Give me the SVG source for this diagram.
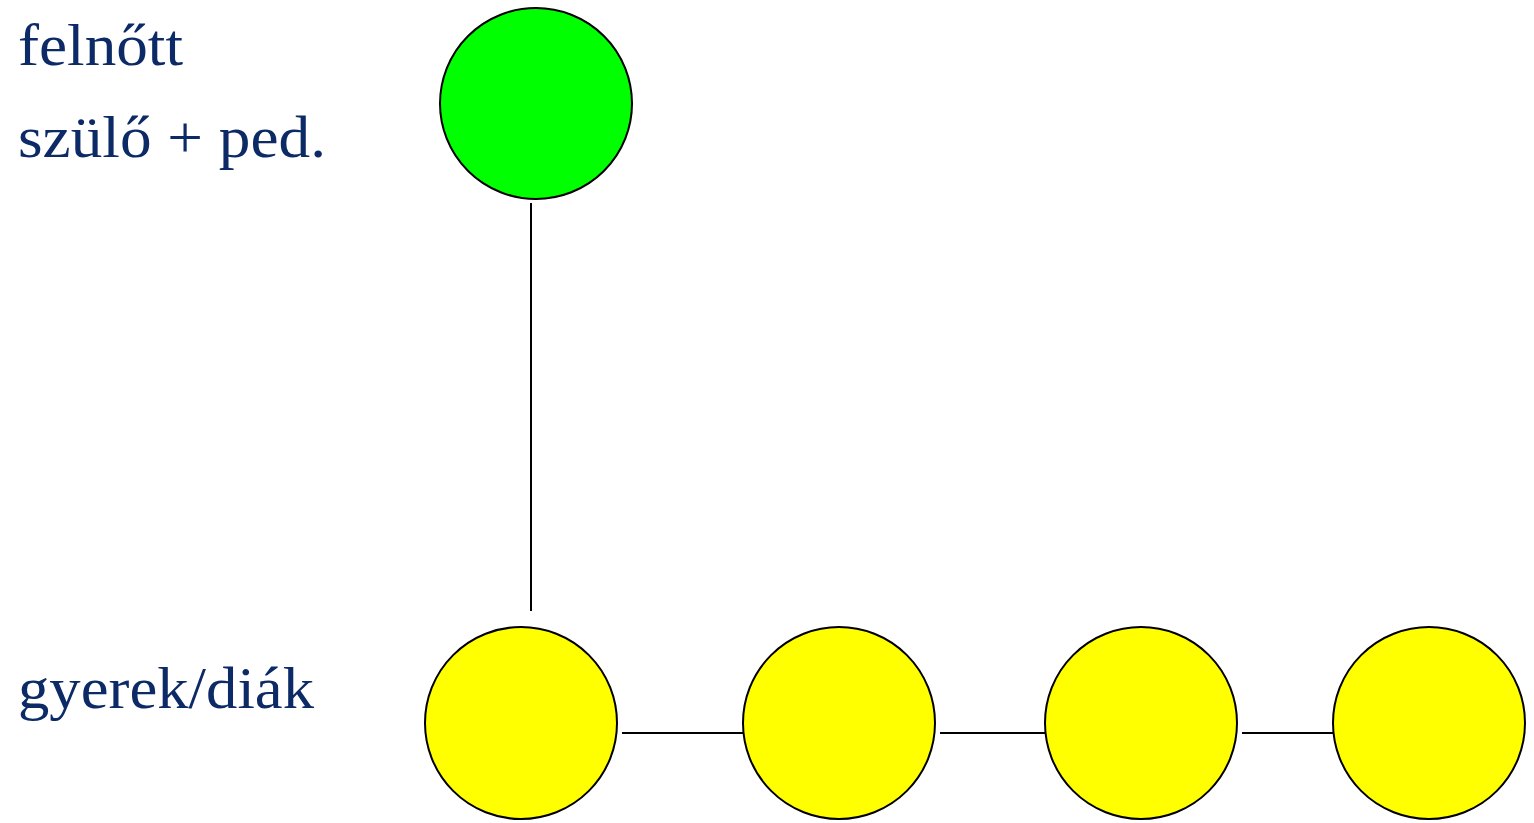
<svg xmlns="http://www.w3.org/2000/svg" width="1534" height="823" viewBox="0 0 1534 823">
<style>
.lbl{font-family:"Liberation Serif","DejaVu Serif",serif;font-size:59px;fill:#0B2A66}
.node{stroke:#000;stroke-width:2}
.conn{stroke:#000;stroke-width:2;fill:none}
</style>
<rect width="1534" height="823" fill="#fff"/>
<g id="labels">
<text class="lbl" x="18" y="65" textLength="165" lengthAdjust="spacingAndGlyphs">felnőtt</text>
<text class="lbl" x="18" y="157" textLength="308" lengthAdjust="spacingAndGlyphs">szülő + ped.</text>
<text class="lbl" x="18" y="708" textLength="296" lengthAdjust="spacingAndGlyphs">gyerek/diák</text>
</g>
<g id="connectors">
<line class="conn" x1="531" y1="203" x2="531" y2="611"/>
<line class="conn" x1="622" y1="733" x2="743" y2="733"/>
<line class="conn" x1="940" y1="733" x2="1046" y2="733"/>
<line class="conn" x1="1242" y1="733" x2="1333" y2="733"/>
</g>
<g id="adult"><ellipse class="node" cx="536" cy="103.5" rx="96" ry="95.5" fill="#00FF00"/></g>
<g id="child1"><circle class="node" cx="521" cy="723" r="96" fill="#FFFF00"/></g>
<g id="child2"><circle class="node" cx="839" cy="723" r="96" fill="#FFFF00"/></g>
<g id="child3"><circle class="node" cx="1141" cy="723" r="96" fill="#FFFF00"/></g>
<g id="child4"><circle class="node" cx="1429" cy="723" r="96" fill="#FFFF00"/></g>
</svg>
